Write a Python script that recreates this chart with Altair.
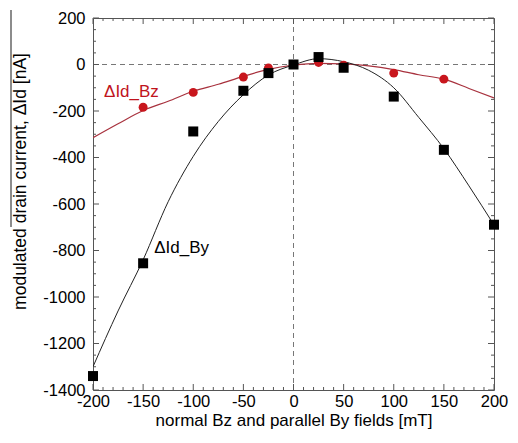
import altair as alt
import pandas as pd

# ---- data ----
by_x = [-200, -150, -100, -50, -25, 0, 25, 50, 100, 150, 200]
by_vals = [-1340, -855, -288, -113, -37, 0, 32, -14, -138, -367, -689]

bz_x = [-150, -100, -50, -25, 0, 25, 50, 100, 150]
bz_vals = [-184, -120, -54, -15, 0, 9, -3, -37, -63]

fit_x = [-200, -175, -150, -125, -100, -75, -50, -25, 0, 25, 50, 75, 100, 125, 150, 175, 200]
by_fit = [-1300, -1060, -840, -590, -395, -245, -130, -45, -2, 25, 12, -25, -100, -228, -362, -522, -690]
bz_fit = [-315, -255, -198, -158, -115, -85, -51, -21, -3, 5, 3, -6, -22, -44, -63, -103, -144]

x_major = [-200, -150, -100, -50, 0, 50, 100, 150, 200]
x_minor = [v for v in range(-200, 201, 10) if v % 50 != 0]
y_major = [-1400, -1200, -1000, -800, -600, -400, -200, 0, 200]
y_minor = [v for v in range(-1400, 201, 50) if v % 200 != 0]

labels = ["ΔId_Bz", "ΔId_By"]
label_x = [-189, -139]
label_y = [-117, -789]
label_colors = ["#c0141c", "#000000"]

W, H = 401, 372
RED = "#c8161d"
RED_LINE = "#a8323e"
FRAME = "#555555"

xs = alt.Scale(domain=[-200, 200], nice=False, zero=False)
ys = alt.Scale(domain=[-1400, 200], nice=False, zero=False)

LBL = "datum.value < 0 ? '-' + abs(datum.value) : '' + datum.value"

x_axis = alt.Axis(values=x_major, ticks=False, domain=False, grid=False,
                  labelFontSize=16.5, labelPadding=3, labelColor="black",
                  labelFlush=False, labelOverlap=False, labelExpr=LBL,
                  title="normal Bz and parallel By fields [mT]", titleFontSize=17,
                  titleFontWeight="normal", titleColor="black", titlePadding=3)
y_axis = alt.Axis(values=y_major, ticks=False, domain=False, grid=False,
                  labelFontSize=16.5, labelPadding=8, labelColor="black",
                  labelFlush=False, labelOverlap=False, labelExpr=LBL,
                  title="modulated drain current,  ΔId [nA]", titleFontSize=17.5,
                  titleFontWeight="normal", titleColor="black",
                  titleAngle=-90, titleX=-73, titleY=163,
                  titleAlign="center", titleBaseline="middle")


def X(f):
    return alt.X(f + ":Q", scale=xs, axis=x_axis)


def Y(f):
    return alt.Y(f + ":Q", scale=ys, axis=y_axis)


df_by = pd.DataFrame({"x": by_x, "y": by_vals})
df_bz = pd.DataFrame({"x": bz_x, "y": bz_vals})
df_fit = pd.DataFrame({"x": fit_x, "by": by_fit, "bz": bz_fit})

# dashed zero lines
zero_h = alt.Chart(pd.DataFrame({"y": [0]})).mark_rule(
    color="#777777", strokeDash=[5, 4], strokeWidth=1).encode(y=Y("y"))
zero_v = alt.Chart(pd.DataFrame({"x": [0]})).mark_rule(
    color="#777777", strokeDash=[5, 4], strokeWidth=1).encode(x=X("x"))

# fitted curves
line_by = alt.Chart(df_fit).mark_line(color="#222222", strokeWidth=1, interpolate="monotone", clip=True).encode(
    x=X("x"), y=Y("by"))
line_bz = alt.Chart(df_fit).mark_line(color=RED_LINE, strokeWidth=1.2, interpolate="monotone", clip=True).encode(
    x=X("x"), y=Y("bz"))

pts_bz = alt.Chart(df_bz).mark_point(shape="circle", filled=True, size=80, color=RED, opacity=1).encode(
    x=X("x"), y=Y("y"))
pts_by = alt.Chart(df_by).mark_point(shape="square", filled=True, size=100, color="black", opacity=1).encode(
    x=X("x"), y=Y("y"))

df_lab = pd.DataFrame({"t": labels, "x": label_x, "y": label_y, "c": label_colors})
texts = alt.Chart(df_lab).mark_text(align="left", baseline="middle", fontSize=17).encode(
    x=X("x"), y=Y("y"), text="t:N", color=alt.Color("c:N", scale=None))


def xticks(vals, length):
    d = pd.DataFrame({"x": vals})
    base = alt.Chart(d).mark_rule(color=FRAME, strokeWidth=1)
    bot = base.encode(x=X("x"), y=alt.value(H), y2=alt.value(H - length))
    top = base.encode(x=X("x"), y=alt.value(0), y2=alt.value(length))
    return [bot, top]


def yticks(vals, length):
    d = pd.DataFrame({"y": vals})
    base = alt.Chart(d).mark_rule(color=FRAME, strokeWidth=1)
    left = base.encode(y=Y("y"), x=alt.value(0), x2=alt.value(length))
    right = base.encode(y=Y("y"), x=alt.value(W), x2=alt.value(W - length))
    return [left, right]


tick_layers = xticks(x_major, 6) + xticks(x_minor, 3) + yticks(y_major, 6) + yticks(y_minor, 3)

overline = alt.Chart(alt.Data(values=[{"a": 1}])).mark_rule(
    color="#666666", strokeWidth=1.5, clip=False).encode(
    x=alt.value(-82), y=alt.value(-8), y2=alt.value(209))

chart = alt.layer(
    zero_h, zero_v, *tick_layers, line_bz, line_by, pts_bz, pts_by, texts, overline
).properties(
    width=W, height=H,
    autosize=alt.AutoSizeParams(type="none"),
    padding={"left": 85, "top": 10, "right": 16, "bottom": 42},
).configure(font="Liberation Sans").configure_view(stroke=FRAME, strokeWidth=1)

chart.save("out.html", embed_options={"renderer": "svg", "actions": False})
